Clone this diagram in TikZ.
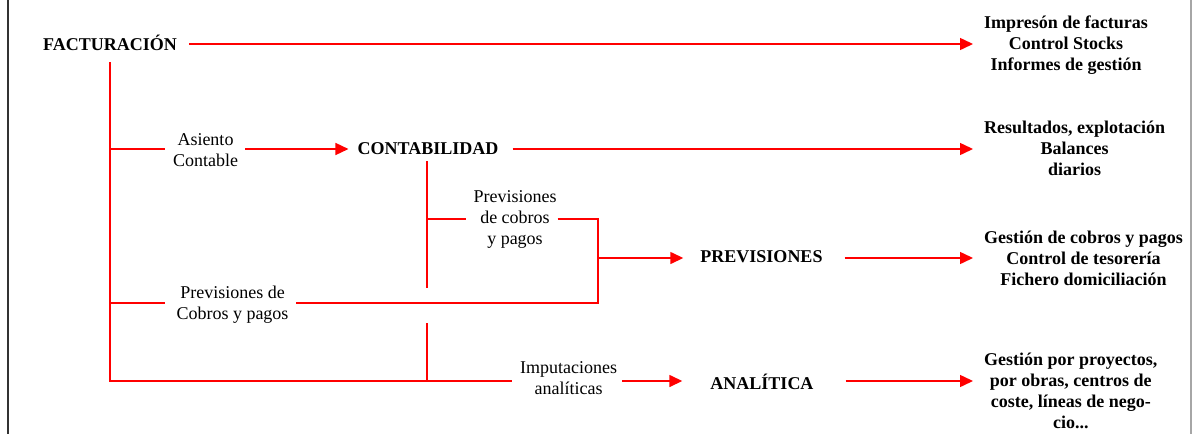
\documentclass[tikz,border=0pt]{standalone}
\usepackage{fontspec}
\setmainfont{Liberation Serif}
\usetikzlibrary{arrows.meta}
\begin{document}
\begin{tikzpicture}[x=1pt,y=-1pt,
  every node/.style={inner sep=0pt, font=\fontsize{18}{21}\selectfont},
  title/.style={font=\fontsize{18}{21}\selectfont\bfseries, text height=12pt, text depth=0pt},
  lbl/.style={align=center},
  outb/.style={align=center, anchor=west, font=\fontsize{18}{21}\selectfont\bfseries},
  ln/.style={draw=red, line width=1.5pt},
  arr/.style={ln, -{Triangle[length=13pt,width=12pt]}},
]
\useasboundingbox (0,0) rectangle (1195,434);
\draw[line width=1.5pt, black!80] (8,0) -- (8,434);
\draw[line width=2.5pt, black!35] (1191,0) -- (1191,434);

\node[title] (fact) at (110,44) {FACTURACIÓN};
\node[title] (conta) at (428,148) {CONTABILIDAD};
\node[title] (prevc) at (761.5,256) {PREVISIONES};
\node[title] (anal) at (762,383) {ANALÍTICA};
\node[lbl] (asiento) at (205.5,150) {Asiento\\Contable};
\node[lbl] (prev1) at (515,219.5) {Previsiones\\de cobros\\y pagos};
\node[lbl] (prev2) at (232.5,305) {Previsiones de\\Cobros y pagos};
\node[lbl] (imput) at (568.5,378) {Imputaciones\\analíticas};
\node[outb] (out1) at (984,45) {Impresón de facturas\\Control Stocks\\Informes de gestión};
\node[outb] (out2) at (984,148) {Resultados, explotación\\Balances\\diarios};
\node[outb] (out3) at (984,258) {Gestión de cobros y pagos\\Control de tesorería\\Fichero domiciliación};
\node[outb] (out4) at (984,391) {Gestión por proyectos,\\por obras, centros de\\coste, líneas de nego-\\cio...};

\coordinate (j1) at (110,149);
\coordinate (j2) at (110,303);
\coordinate (jb) at (110,381);
\coordinate (k1) at (427,219);
\coordinate (kt) at (427,288);
\coordinate (kc) at (427,323);
\coordinate (kb) at (427,381);
\coordinate (m1) at (598,219);
\coordinate (m2) at (598,303);
\coordinate (mm) at (598,258);

\draw[arr, shorten <=12pt, shorten >=11pt] (fact.east) -- (fact.east -| out1.west);
\draw[ln, shorten <=12pt, shorten >=8pt] (fact.south) -- (jb) -- (jb -| imput.west);
\draw[ln, shorten >=8pt] (j1) -- (j1 -| asiento.west);
\draw[arr, shorten <=7pt, shorten >=9pt] (j1 -| asiento.east) -- (j1 -| conta.west);
\draw[arr, shorten <=14pt, shorten >=11pt] (conta.east |- j1) -- (j1 -| out2.west);
\draw[ln, shorten <=7pt] (conta.south -| k1) -- (kt);
\draw[ln, shorten >=7pt] (k1) -- (k1 -| prev1.west);
\draw[ln, shorten <=1pt, shorten >=7pt] (k1 -| prev1.east) -- (m1) -- (m2) -- (m2 -| prev2.east);
\draw[ln, shorten >=11pt] (j2) -- (j2 -| prev2.west);
\draw[arr, shorten >=17pt] (mm) -- (mm -| prevc.west);
\draw[arr, shorten <=22pt, shorten >=11pt] (mm -| prevc.east) -- (mm -| out3.west);
\draw[ln] (kc) -- (kb);
\draw[arr, shorten <=5pt, shorten >=28pt] (jb -| imput.east) -- (jb -| anal.west);
\draw[arr, shorten <=32pt, shorten >=11pt] (jb -| anal.east) -- (jb -| out4.west);
\end{tikzpicture}
\end{document}
